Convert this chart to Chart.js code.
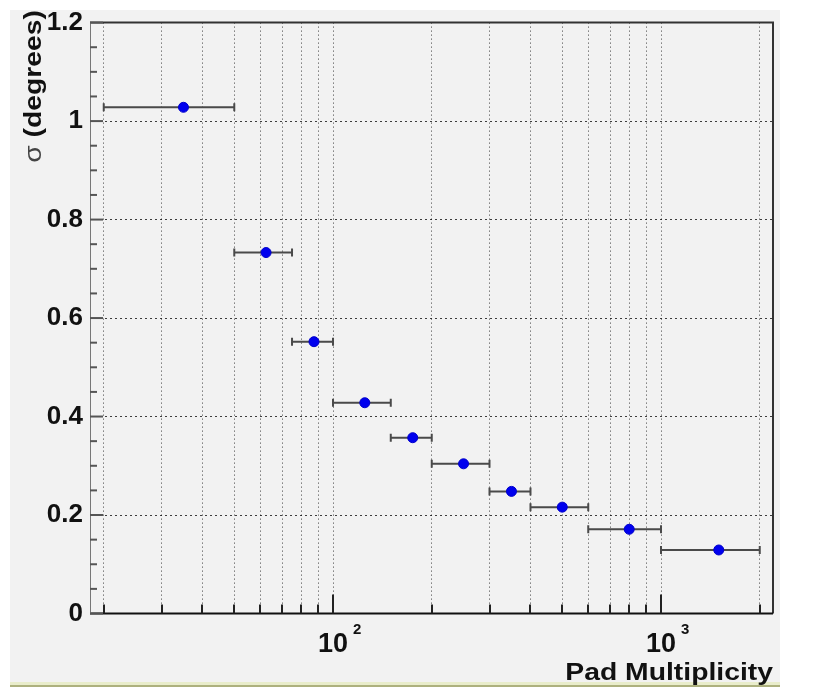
<!DOCTYPE html>
<html>
<head>
<meta charset="utf-8">
<title>Pad Multiplicity</title>
<script src="https://cdn.jsdelivr.net/npm/chart.js@4.4.0/dist/chart.umd.min.js"></script>
<style>
    html, body { margin: 0; padding: 0; background: #fff; }
    canvas { display: block; }
</style>
</head>
<body>
<canvas id="sigmaChart" width="828" height="688"></canvas>
<script>
// Angular resolution vs pad multiplicity, one point per multiplicity bin
const binLow = [20, 50, 75, 100, 150, 200, 300, 400, 600, 1000];
const binHigh = [50, 75, 100, 150, 200, 300, 400, 600, 1000, 2000];
const padMult = [35, 62.5, 87.5, 125, 175, 250, 350, 500, 800, 1500];
const sigma = [1.028, 0.733, 0.552, 0.428, 0.357, 0.304, 0.248, 0.216, 0.171, 0.129];

// log axis ticks, decades get a "10^n" label
const xTicks = [20, 30, 40, 50, 60, 70, 80, 90,
    100, 200, 300, 400, 500, 600, 700, 800, 900, 1000, 2000];
const decadeTicks = [100, 1000];
const decadeExp = ['2', '3'];

const FONT = 'Liberation Sans, Arial, Helvetica, sans-serif';

function isMajorY(v) {
    return Math.abs(v * 5 - Math.round(v * 5)) < 1e-6;
}

// Background panel, error bars, frame, inward ticks and axis titles
const rootStyle = {
    id: 'rootStyle',
    beforeDraw(chart) {
        const ctx = chart.ctx;
        ctx.save();
        ctx.fillStyle = '#ffffff';
        ctx.fillRect(0, 0, chart.width, chart.height);
        ctx.fillStyle = '#f2f2f2';
        ctx.fillRect(10, 10, 770, 672);
        ctx.fillStyle = '#e9edcb';
        ctx.fillRect(10, 682, 770, 3);
        ctx.fillStyle = '#adb17e';
        ctx.fillRect(10, 685, 770, 2);
        ctx.restore();
    },
    beforeDatasetsDraw(chart) {
        const ctx = chart.ctx;
        const x = chart.scales.x;
        const y = chart.scales.y;
        ctx.save();
        ctx.strokeStyle = '#4a4a4a';
        ctx.lineWidth = 2;
        for (let i = 0; i < sigma.length; i++) {
            const x1 = x.getPixelForValue(binLow[i]);
            const x2 = x.getPixelForValue(binHigh[i]);
            const py = y.getPixelForValue(sigma[i]);
            ctx.beginPath();
            ctx.moveTo(x1, py);
            ctx.lineTo(x2, py);
            ctx.moveTo(x1, py - 4);
            ctx.lineTo(x1, py + 4);
            ctx.moveTo(x2, py - 4);
            ctx.lineTo(x2, py + 4);
            ctx.stroke();
        }
        ctx.restore();
    },
    afterDraw(chart) {
        const ctx = chart.ctx;
        const a = chart.chartArea;
        const x = chart.scales.x;
        const y = chart.scales.y;
        ctx.save();

        // frame
        ctx.lineWidth = 2;
        ctx.strokeStyle = '#333';
        ctx.beginPath();
        ctx.moveTo(a.left, a.top);
        ctx.lineTo(a.right, a.top);
        ctx.lineTo(a.right, a.bottom);
        ctx.stroke();
        ctx.strokeStyle = '#111';
        ctx.beginPath();
        ctx.moveTo(a.left, a.bottom);
        ctx.lineTo(a.right, a.bottom);
        ctx.stroke();
        ctx.lineWidth = 1;
        ctx.strokeStyle = '#777';
        ctx.beginPath();
        ctx.moveTo(a.left + 0.5, a.top);
        ctx.lineTo(a.left + 0.5, a.bottom);
        ctx.stroke();

        // ticks pointing into the frame
        ctx.lineWidth = 2;
        ctx.strokeStyle = '#222';
        x.ticks.forEach(t => {
            if (t.value <= x.min || t.value >= x.max) return;
            const px = Math.round(x.getPixelForValue(t.value));
            const len = decadeTicks.includes(t.value) ? 19 : 9;
            ctx.beginPath();
            ctx.moveTo(px, a.bottom);
            ctx.lineTo(px, a.bottom - len);
            ctx.stroke();
        });
        ctx.strokeStyle = '#555';
        y.ticks.forEach(t => {
            const py = y.getPixelForValue(t.value);
            const len = isMajorY(t.value) ? 13 : 7;
            ctx.beginPath();
            ctx.moveTo(a.left, py);
            ctx.lineTo(a.left + len, py);
            ctx.stroke();
        });

        // decade labels with raised exponent
        ctx.fillStyle = '#111';
        decadeTicks.forEach((v, i) => {
            const px = x.getPixelForValue(v);
            ctx.font = 'bold 27px ' + FONT;
            ctx.textAlign = 'center';
            ctx.textBaseline = 'alphabetic';
            ctx.fillText('10', px, 652);
            ctx.font = 'bold 15px ' + FONT;
            ctx.textAlign = 'left';
            ctx.fillText(decadeExp[i], px + 20, 634);
        });

        // x title, right aligned to the axis end
        ctx.save();
        ctx.translate(a.right, 680);
        ctx.scale(1.18, 1);
        ctx.font = 'bold 24px ' + FONT;
        ctx.textAlign = 'right';
        ctx.fillText('Pad Multiplicity', 0, 0);
        ctx.restore();

        // y title, rotated, ending at the top of the panel
        ctx.save();
        ctx.translate(41, 10);
        ctx.rotate(-Math.PI / 2);
        ctx.scale(1.18, 1);
        ctx.textAlign = 'right';
        ctx.font = 'bold 24px ' + FONT;
        const rest = ' (degrees)';
        ctx.fillText(rest, 0, 0);
        const w = ctx.measureText(rest).width;
        ctx.font = '24px ' + FONT;
        ctx.fillStyle = '#444';
        ctx.fillText('\u03c3', -w, 0);
        ctx.restore();

        ctx.restore();
    }
};

const ctx = document.getElementById('sigmaChart').getContext('2d');
new Chart(ctx, {
    type: 'scatter',
    data: {
        datasets: [{
            data: padMult.map((v, i) => ({ x: v, y: sigma[i] })),
            backgroundColor: '#0000ee',
            borderColor: '#0000cc',
            borderWidth: 1,
            pointRadius: 5,
            pointHoverRadius: 5
        }]
    },
    options: {
        responsive: false,
        animation: false,
        layout: { padding: { top: 21.5, right: 55, left: 0, bottom: 0 } },
        plugins: {
            legend: { display: false },
            tooltip: { enabled: false }
        },
        scales: {
            x: {
                type: 'logarithmic',
                min: 18.16,
                max: 2195,
                afterBuildTicks: scale => {
                    scale.ticks = xTicks.map(v => ({ value: v }));
                },
                afterFit: scale => { scale.height = 74.5; },
                ticks: { display: false },
                grid: { color: 'rgba(0,0,0,0.75)', lineWidth: 1, drawTicks: false },
                border: { display: false, dash: [1, 3] }
            },
            y: {
                min: 0,
                max: 1.2,
                afterFit: scale => { scale.width = 90; },
                ticks: {
                    stepSize: 0.05,
                    maxTicksLimit: 40,
                    autoSkip: false,
                    padding: 7,
                    color: '#111',
                    font: { family: FONT, size: 26, weight: 'bold' },
                    callback: v => isMajorY(v) ? String(Math.round(v * 10) / 10) : ''
                },
                grid: {
                    color: c => isMajorY(c.tick.value) ? 'rgba(0,0,0,0.75)' : 'rgba(0,0,0,0)',
                    lineWidth: 1,
                    drawTicks: false
                },
                border: { display: false, dash: [2, 3] }
            }
        }
    },
    plugins: [rootStyle]
});
</script>
</body>
</html>
